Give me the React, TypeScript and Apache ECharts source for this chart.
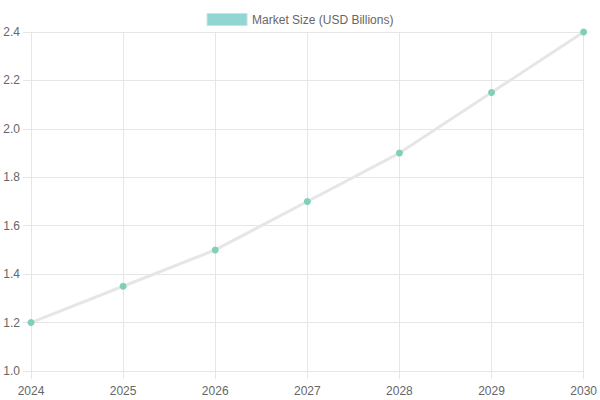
import React, { useEffect, useRef } from "react";
import * as echarts from "echarts";

const years = ["2024", "2025", "2026", "2027", "2028", "2029", "2030"];
const marketSize = [1.2, 1.35, 1.5, 1.7, 1.9, 2.15, 2.4];
const seriesName = "Market Size (USD Billions)";

export default function App() {
  const ref = useRef<HTMLDivElement>(null);

  useEffect(() => {
    if (!ref.current) return;
    const chart = echarts.init(ref.current, undefined, { renderer: "svg" });
    const gridColor = "#e6e6e6";
    const textStyle = { color: "#666", fontSize: 12, fontFamily: "Liberation Sans, Arial, sans-serif" };
    chart.setOption({
      animation: false,
      legend: {
        top: 8,
        left: "center",
        icon: "rect",
        itemWidth: 40,
        itemHeight: 12,
        itemGap: 10,
        textStyle,
        data: [
          {
            name: seriesName,
            itemStyle: { color: "#92d6d4", borderColor: "#c4e4e2", borderWidth: 1 },
          },
        ],
      },
      grid: { left: 31, right: 16, top: 32, bottom: 29, containLabel: false },
      xAxis: {
        type: "category",
        data: years,
        boundaryGap: false,
        axisLine: { lineStyle: { color: gridColor } },
        axisTick: { show: true, length: 8, alignWithLabel: true, lineStyle: { color: gridColor } },
        axisLabel: { ...textStyle, margin: 14 },
        splitLine: { show: true, lineStyle: { color: gridColor } },
      },
      yAxis: {
        type: "value",
        min: 1.0,
        max: 2.4,
        interval: 0.2,
        axisLine: { show: true, lineStyle: { color: gridColor } },
        axisTick: { show: true, length: 8, lineStyle: { color: gridColor } },
        axisLabel: { ...textStyle, margin: 11, formatter: (v: number) => v.toFixed(1) },
        splitLine: { show: true, lineStyle: { color: gridColor } },
      },
      series: [
        {
          name: seriesName,
          type: "line",
          data: marketSize,
          symbol: "circle",
          symbolSize: 7,
          lineStyle: { color: "#e6e6e6", width: 3 },
          itemStyle: { color: "#80cfba" },
        },
      ],
    });
    return () => chart.dispose();
  }, []);

  return (
    <div
      ref={ref}
      style={{ position: "fixed", left: 0, top: 0, width: 600, height: 400, background: "#fff" }}
    />
  );
}
